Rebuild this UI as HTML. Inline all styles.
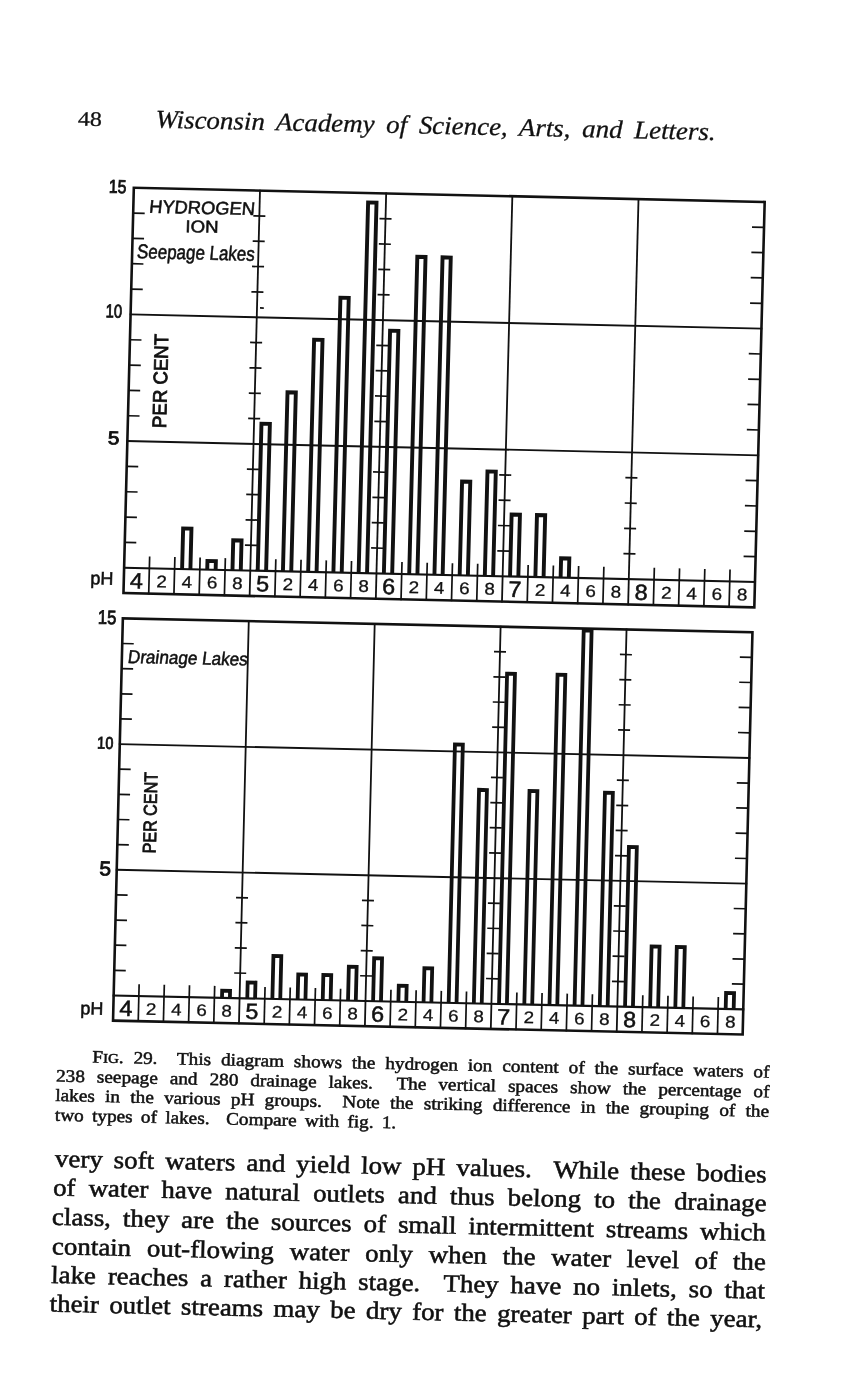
<!DOCTYPE html>
<html><head><meta charset="utf-8"><title>Fig. 29</title>
<style>html,body{margin:0;padding:0;background:#fff;width:841px;height:1380px;overflow:hidden}svg{display:block;will-change:transform}</style>
</head><body>
<svg width="841" height="1380" viewBox="0 0 841 1380">
<rect width="841" height="1380" fill="#fff"/>
<g transform="matrix(1.00135 0.02262 -0.02567 1.00533 133.825 187.725)" stroke="#111" fill="none" stroke-linecap="square">
<rect x="0" y="0" width="630.0" height="403.2" stroke-width="2.6"/>
<line x1="0" y1="126.0" x2="630.0" y2="126.0" stroke-width="1.9"/>
<line x1="0" y1="252.0" x2="630.0" y2="252.0" stroke-width="1.9"/>
<line x1="0" y1="378.0" x2="630.0" y2="378.0" stroke-width="2.1"/>
<line x1="126.0" y1="0" x2="126.0" y2="403.2" stroke-width="1.8"/>
<line x1="252.0" y1="0" x2="252.0" y2="403.2" stroke-width="1.8"/>
<line x1="378.0" y1="0" x2="378.0" y2="403.2" stroke-width="1.8"/>
<line x1="504.0" y1="0" x2="504.0" y2="403.2" stroke-width="1.8"/>
<line x1="25.2" y1="367.0" x2="25.2" y2="403.2" stroke-width="1.7"/>
<line x1="50.4" y1="367.0" x2="50.4" y2="403.2" stroke-width="1.7"/>
<line x1="75.6" y1="367.0" x2="75.6" y2="403.2" stroke-width="1.7"/>
<line x1="100.8" y1="367.0" x2="100.8" y2="403.2" stroke-width="1.7"/>
<line x1="151.2" y1="367.0" x2="151.2" y2="403.2" stroke-width="1.7"/>
<line x1="176.4" y1="367.0" x2="176.4" y2="403.2" stroke-width="1.7"/>
<line x1="201.6" y1="367.0" x2="201.6" y2="403.2" stroke-width="1.7"/>
<line x1="226.8" y1="367.0" x2="226.8" y2="403.2" stroke-width="1.7"/>
<line x1="277.2" y1="367.0" x2="277.2" y2="403.2" stroke-width="1.7"/>
<line x1="302.4" y1="367.0" x2="302.4" y2="403.2" stroke-width="1.7"/>
<line x1="327.6" y1="367.0" x2="327.6" y2="403.2" stroke-width="1.7"/>
<line x1="352.8" y1="367.0" x2="352.8" y2="403.2" stroke-width="1.7"/>
<line x1="403.2" y1="367.0" x2="403.2" y2="403.2" stroke-width="1.7"/>
<line x1="428.4" y1="367.0" x2="428.4" y2="403.2" stroke-width="1.7"/>
<line x1="453.6" y1="367.0" x2="453.6" y2="403.2" stroke-width="1.7"/>
<line x1="478.8" y1="367.0" x2="478.8" y2="403.2" stroke-width="1.7"/>
<line x1="529.2" y1="367.0" x2="529.2" y2="403.2" stroke-width="1.7"/>
<line x1="554.4" y1="367.0" x2="554.4" y2="403.2" stroke-width="1.7"/>
<line x1="579.6" y1="367.0" x2="579.6" y2="403.2" stroke-width="1.7"/>
<line x1="604.8" y1="367.0" x2="604.8" y2="403.2" stroke-width="1.7"/>
<path d="M0 352.8h11.5M630.0 352.8h-12M0 327.6h11.5M630.0 327.6h-12M0 302.4h11.5M630.0 302.4h-12M0 277.2h11.5M630.0 277.2h-12M0 226.8h11.5M630.0 226.8h-12M0 201.6h11.5M630.0 201.6h-12M0 176.4h11.5M630.0 176.4h-12M0 151.2h11.5M630.0 151.2h-12M0 100.8h11.5M630.0 100.8h-12M0 75.6h11.5M630.0 75.6h-12M0 50.4h11.5M630.0 50.4h-12M0 25.2h11.5M630.0 25.2h-12M120.0 25.2h12M120.0 50.4h12M120.0 75.6h12M120.0 100.8h12M120.0 151.2h12M120.0 176.4h12M120.0 201.6h12M120.0 226.8h12M120.0 277.2h12M120.0 302.4h12M120.0 327.6h12M120.0 352.8h12M246.0 25.2h12M246.0 50.4h12M246.0 75.6h12M246.0 100.8h12M246.0 151.2h12M246.0 176.4h12M246.0 201.6h12M246.0 226.8h12M246.0 277.2h12M246.0 302.4h12M246.0 327.6h12M246.0 352.8h12M372.0 277.2h12M372.0 302.4h12M372.0 327.6h12M372.0 352.8h12M498.0 277.2h12M498.0 302.4h12M498.0 327.6h12M498.0 352.8h12" stroke-width="1.7" stroke-linecap="butt"/>
<path d="M57.9 378.0V337.6H66.2V378.0M83.0 378.0V369.4H91.4V378.0M108.2 378.0V348.2H116.5V378.0M133.4 378.0V231.7H141.8V378.0M158.6 378.0V199.9H166.9V378.0M183.8 378.0V147.0H192.2V378.0M209.0 378.0V104.7H217.3V378.0M234.2 378.0V9.4H242.6V378.0M259.4 378.0V136.4H267.7V378.0M284.7 378.0V62.3H292.9V378.0M309.9 378.0V62.3H318.1V378.0M335.1 378.0V284.7H343.3V378.0M360.2 378.0V274.1H368.5V378.0M385.4 378.0V316.4H393.7V378.0M410.7 378.0V316.4H418.9V378.0M435.9 378.0V358.8H444.1V378.0" stroke-width="3.9" stroke-linecap="butt" stroke-linejoin="miter"/>
</g>
<g transform="matrix(1.00135 0.02262 -0.02567 1.00533 133.825 187.725)" fill="#111" font-family='"Liberation Sans", sans-serif'>
<g stroke="#111" stroke-width="0.55">
<text transform="translate(-7.5 5.5) scale(0.85 1)" font-size="18.5" text-anchor="end" stroke-width="0.85">15</text>
<text transform="translate(-8.5 129.5) scale(0.8 1)" font-size="18.5" text-anchor="end" stroke-width="0.85">10</text>
<text transform="translate(-8.0 255.5) scale(1.12 1)" font-size="18.5" text-anchor="end" stroke-width="0.85">5</text>
<text x="-10.5" y="395.2" font-size="18" text-anchor="end">pH</text>
<text transform="translate(15.5 24.5) skewX(-4)" font-size="18" textLength="105.5" lengthAdjust="spacingAndGlyphs">HYDROGEN</text>
<text x="52.5" y="43" font-size="17" textLength="33" lengthAdjust="spacingAndGlyphs">ION</text>
<text transform="translate(4.5 70) skewX(-4)" font-size="20" textLength="117.5" lengthAdjust="spacingAndGlyphs">Seepage Lakes</text>
<path d="M129 116.7h3.8" stroke-width="1.8"/>
<text transform="translate(38.2 238.3) rotate(-90)" font-size="19.5" textLength="93.5" lengthAdjust="spacingAndGlyphs" stroke-width="0.85">PER CENT</text>
</g>
<text transform="translate(12.6 398.3) scale(1.06 1)" font-size="22" text-anchor="middle" stroke="#111" stroke-width="0.55">4</text>
<text transform="translate(37.8 396.6) scale(1.12 1)" font-size="16.8" text-anchor="middle" stroke="#111" stroke-width="0.3">2</text>
<text transform="translate(63.0 396.6) scale(1.12 1)" font-size="16.8" text-anchor="middle" stroke="#111" stroke-width="0.3">4</text>
<text transform="translate(88.2 396.6) scale(1.12 1)" font-size="16.8" text-anchor="middle" stroke="#111" stroke-width="0.3">6</text>
<text transform="translate(113.4 396.6) scale(1.12 1)" font-size="16.8" text-anchor="middle" stroke="#111" stroke-width="0.3">8</text>
<text transform="translate(138.6 398.3) scale(1.06 1)" font-size="22" text-anchor="middle" stroke="#111" stroke-width="0.55">5</text>
<text transform="translate(163.8 396.6) scale(1.12 1)" font-size="16.8" text-anchor="middle" stroke="#111" stroke-width="0.3">2</text>
<text transform="translate(189.0 396.6) scale(1.12 1)" font-size="16.8" text-anchor="middle" stroke="#111" stroke-width="0.3">4</text>
<text transform="translate(214.2 396.6) scale(1.12 1)" font-size="16.8" text-anchor="middle" stroke="#111" stroke-width="0.3">6</text>
<text transform="translate(239.4 396.6) scale(1.12 1)" font-size="16.8" text-anchor="middle" stroke="#111" stroke-width="0.3">8</text>
<text transform="translate(264.6 398.3) scale(1.06 1)" font-size="22" text-anchor="middle" stroke="#111" stroke-width="0.55">6</text>
<text transform="translate(289.8 396.6) scale(1.12 1)" font-size="16.8" text-anchor="middle" stroke="#111" stroke-width="0.3">2</text>
<text transform="translate(315.0 396.6) scale(1.12 1)" font-size="16.8" text-anchor="middle" stroke="#111" stroke-width="0.3">4</text>
<text transform="translate(340.2 396.6) scale(1.12 1)" font-size="16.8" text-anchor="middle" stroke="#111" stroke-width="0.3">6</text>
<text transform="translate(365.4 396.6) scale(1.12 1)" font-size="16.8" text-anchor="middle" stroke="#111" stroke-width="0.3">8</text>
<text transform="translate(390.6 398.3) scale(1.06 1)" font-size="22" text-anchor="middle" stroke="#111" stroke-width="0.55">7</text>
<text transform="translate(415.8 396.6) scale(1.12 1)" font-size="16.8" text-anchor="middle" stroke="#111" stroke-width="0.3">2</text>
<text transform="translate(441.0 396.6) scale(1.12 1)" font-size="16.8" text-anchor="middle" stroke="#111" stroke-width="0.3">4</text>
<text transform="translate(466.2 396.6) scale(1.12 1)" font-size="16.8" text-anchor="middle" stroke="#111" stroke-width="0.3">6</text>
<text transform="translate(491.4 396.6) scale(1.12 1)" font-size="16.8" text-anchor="middle" stroke="#111" stroke-width="0.3">8</text>
<text transform="translate(516.6 398.3) scale(1.06 1)" font-size="22" text-anchor="middle" stroke="#111" stroke-width="0.55">8</text>
<text transform="translate(541.8 396.6) scale(1.12 1)" font-size="16.8" text-anchor="middle" stroke="#111" stroke-width="0.3">2</text>
<text transform="translate(567.0 396.6) scale(1.12 1)" font-size="16.8" text-anchor="middle" stroke="#111" stroke-width="0.3">4</text>
<text transform="translate(592.2 396.6) scale(1.12 1)" font-size="16.8" text-anchor="middle" stroke="#111" stroke-width="0.3">6</text>
<text transform="translate(617.4 396.6) scale(1.12 1)" font-size="16.8" text-anchor="middle" stroke="#111" stroke-width="0.3">8</text>
</g>
<g transform="matrix(0.99937 0.02198 -0.02431 0.99764 122.850 618.375)" stroke="#111" fill="none" stroke-linecap="square">
<rect x="0" y="0" width="630.0" height="403.2" stroke-width="2.6"/>
<line x1="0" y1="126.0" x2="630.0" y2="126.0" stroke-width="1.9"/>
<line x1="0" y1="252.0" x2="630.0" y2="252.0" stroke-width="1.9"/>
<line x1="0" y1="378.0" x2="630.0" y2="378.0" stroke-width="2.1"/>
<line x1="126.0" y1="0" x2="126.0" y2="403.2" stroke-width="1.8"/>
<line x1="252.0" y1="0" x2="252.0" y2="403.2" stroke-width="1.8"/>
<line x1="378.0" y1="0" x2="378.0" y2="403.2" stroke-width="1.8"/>
<line x1="504.0" y1="0" x2="504.0" y2="403.2" stroke-width="1.8"/>
<line x1="25.2" y1="367.0" x2="25.2" y2="403.2" stroke-width="1.7"/>
<line x1="50.4" y1="367.0" x2="50.4" y2="403.2" stroke-width="1.7"/>
<line x1="75.6" y1="367.0" x2="75.6" y2="403.2" stroke-width="1.7"/>
<line x1="100.8" y1="367.0" x2="100.8" y2="403.2" stroke-width="1.7"/>
<line x1="151.2" y1="367.0" x2="151.2" y2="403.2" stroke-width="1.7"/>
<line x1="176.4" y1="367.0" x2="176.4" y2="403.2" stroke-width="1.7"/>
<line x1="201.6" y1="367.0" x2="201.6" y2="403.2" stroke-width="1.7"/>
<line x1="226.8" y1="367.0" x2="226.8" y2="403.2" stroke-width="1.7"/>
<line x1="277.2" y1="367.0" x2="277.2" y2="403.2" stroke-width="1.7"/>
<line x1="302.4" y1="367.0" x2="302.4" y2="403.2" stroke-width="1.7"/>
<line x1="327.6" y1="367.0" x2="327.6" y2="403.2" stroke-width="1.7"/>
<line x1="352.8" y1="367.0" x2="352.8" y2="403.2" stroke-width="1.7"/>
<line x1="403.2" y1="367.0" x2="403.2" y2="403.2" stroke-width="1.7"/>
<line x1="428.4" y1="367.0" x2="428.4" y2="403.2" stroke-width="1.7"/>
<line x1="453.6" y1="367.0" x2="453.6" y2="403.2" stroke-width="1.7"/>
<line x1="478.8" y1="367.0" x2="478.8" y2="403.2" stroke-width="1.7"/>
<line x1="529.2" y1="367.0" x2="529.2" y2="403.2" stroke-width="1.7"/>
<line x1="554.4" y1="367.0" x2="554.4" y2="403.2" stroke-width="1.7"/>
<line x1="579.6" y1="367.0" x2="579.6" y2="403.2" stroke-width="1.7"/>
<line x1="604.8" y1="367.0" x2="604.8" y2="403.2" stroke-width="1.7"/>
<path d="M0 352.8h11.5M630.0 352.8h-12M0 327.6h11.5M630.0 327.6h-12M0 302.4h11.5M630.0 302.4h-12M0 277.2h11.5M630.0 277.2h-12M0 226.8h11.5M630.0 226.8h-12M0 201.6h11.5M630.0 201.6h-12M0 176.4h11.5M630.0 176.4h-12M0 151.2h11.5M630.0 151.2h-12M0 100.8h11.5M630.0 100.8h-12M0 75.6h11.5M630.0 75.6h-12M0 50.4h11.5M630.0 50.4h-12M0 25.2h11.5M630.0 25.2h-12M120.0 277.2h12M120.0 302.4h12M120.0 327.6h12M120.0 352.8h12M246.0 277.2h12M246.0 302.4h12M246.0 327.6h12M246.0 352.8h12M372.0 25.2h12M372.0 50.4h12M372.0 75.6h12M372.0 100.8h12M372.0 151.2h12M372.0 176.4h12M372.0 201.6h12M372.0 226.8h12M372.0 277.2h12M372.0 302.4h12M372.0 327.6h12M372.0 352.8h12M498.0 25.2h12M498.0 50.4h12M498.0 75.6h12M498.0 100.8h12M498.0 151.2h12M498.0 176.4h12M498.0 201.6h12M498.0 226.8h12M498.0 277.2h12M498.0 302.4h12M498.0 327.6h12M498.0 352.8h12" stroke-width="1.7" stroke-linecap="butt"/>
<path d="M108.4 378.0V370.9H116.3V378.0M133.7 378.0V361.9H141.5V378.0M158.8 378.0V334.9H166.7V378.0M184.1 378.0V352.9H191.9V378.0M209.2 378.0V352.9H217.1V378.0M234.5 378.0V343.9H242.3V378.0M259.6 378.0V334.9H267.5V378.0M284.9 378.0V361.9H292.8V378.0M310.1 378.0V343.9H317.9V378.0M335.2 378.0V118.9H343.1V378.0M360.4 378.0V163.9H368.3V378.0M385.6 378.0V46.9H393.5V378.0M410.9 378.0V163.9H418.8V378.0M436.1 378.0V46.9H443.9V378.0M461.2 378.0V1.9H469.1V378.0M486.4 378.0V163.9H494.3V378.0M511.7 378.0V217.9H519.6V378.0M536.8 378.0V316.9H544.8V378.0M562.0 378.0V316.9H570.0V378.0M612.4 378.0V361.9H620.4V378.0" stroke-width="3.8" stroke-linecap="butt" stroke-linejoin="miter"/>
</g>
<g transform="matrix(0.99937 0.02198 -0.02431 0.99764 122.850 618.375)" fill="#111" font-family='"Liberation Sans", sans-serif'>
<g stroke="#111" stroke-width="0.55">
<text transform="translate(-6.5 6) scale(0.85 1)" font-size="19.5" text-anchor="end" stroke-width="0.85">15</text>
<text transform="translate(-6.5 131) scale(0.85 1)" font-size="17" text-anchor="end" stroke-width="0.85">10</text>
<text transform="translate(-5.6 257.8) scale(1.05 1)" font-size="20" text-anchor="end" stroke-width="0.85">5</text>
<text x="-10" y="397.5" font-size="18" text-anchor="end">pH</text>
<text transform="translate(5.5 44.5) skewX(-6)" font-size="18.5" textLength="120" lengthAdjust="spacingAndGlyphs">Drainage Lakes</text>
<text transform="translate(38.5 234.8) rotate(-90)" font-size="18.5" textLength="81.5" lengthAdjust="spacingAndGlyphs" stroke-width="0.8">PER CENT</text>
</g>
<text transform="translate(12.6 398.3) scale(1.06 1)" font-size="22" text-anchor="middle" stroke="#111" stroke-width="0.55">4</text>
<text transform="translate(37.8 396.6) scale(1.12 1)" font-size="16.8" text-anchor="middle" stroke="#111" stroke-width="0.3">2</text>
<text transform="translate(63.0 396.6) scale(1.12 1)" font-size="16.8" text-anchor="middle" stroke="#111" stroke-width="0.3">4</text>
<text transform="translate(88.2 396.6) scale(1.12 1)" font-size="16.8" text-anchor="middle" stroke="#111" stroke-width="0.3">6</text>
<text transform="translate(113.4 396.6) scale(1.12 1)" font-size="16.8" text-anchor="middle" stroke="#111" stroke-width="0.3">8</text>
<text transform="translate(138.6 398.3) scale(1.06 1)" font-size="22" text-anchor="middle" stroke="#111" stroke-width="0.55">5</text>
<text transform="translate(163.8 396.6) scale(1.12 1)" font-size="16.8" text-anchor="middle" stroke="#111" stroke-width="0.3">2</text>
<text transform="translate(189.0 396.6) scale(1.12 1)" font-size="16.8" text-anchor="middle" stroke="#111" stroke-width="0.3">4</text>
<text transform="translate(214.2 396.6) scale(1.12 1)" font-size="16.8" text-anchor="middle" stroke="#111" stroke-width="0.3">6</text>
<text transform="translate(239.4 396.6) scale(1.12 1)" font-size="16.8" text-anchor="middle" stroke="#111" stroke-width="0.3">8</text>
<text transform="translate(264.6 398.3) scale(1.06 1)" font-size="22" text-anchor="middle" stroke="#111" stroke-width="0.55">6</text>
<text transform="translate(289.8 396.6) scale(1.12 1)" font-size="16.8" text-anchor="middle" stroke="#111" stroke-width="0.3">2</text>
<text transform="translate(315.0 396.6) scale(1.12 1)" font-size="16.8" text-anchor="middle" stroke="#111" stroke-width="0.3">4</text>
<text transform="translate(340.2 396.6) scale(1.12 1)" font-size="16.8" text-anchor="middle" stroke="#111" stroke-width="0.3">6</text>
<text transform="translate(365.4 396.6) scale(1.12 1)" font-size="16.8" text-anchor="middle" stroke="#111" stroke-width="0.3">8</text>
<text transform="translate(390.6 398.3) scale(1.06 1)" font-size="22" text-anchor="middle" stroke="#111" stroke-width="0.55">7</text>
<text transform="translate(415.8 396.6) scale(1.12 1)" font-size="16.8" text-anchor="middle" stroke="#111" stroke-width="0.3">2</text>
<text transform="translate(441.0 396.6) scale(1.12 1)" font-size="16.8" text-anchor="middle" stroke="#111" stroke-width="0.3">4</text>
<text transform="translate(466.2 396.6) scale(1.12 1)" font-size="16.8" text-anchor="middle" stroke="#111" stroke-width="0.3">6</text>
<text transform="translate(491.4 396.6) scale(1.12 1)" font-size="16.8" text-anchor="middle" stroke="#111" stroke-width="0.3">8</text>
<text transform="translate(516.6 398.3) scale(1.06 1)" font-size="22" text-anchor="middle" stroke="#111" stroke-width="0.55">8</text>
<text transform="translate(541.8 396.6) scale(1.12 1)" font-size="16.8" text-anchor="middle" stroke="#111" stroke-width="0.3">2</text>
<text transform="translate(567.0 396.6) scale(1.12 1)" font-size="16.8" text-anchor="middle" stroke="#111" stroke-width="0.3">4</text>
<text transform="translate(592.2 396.6) scale(1.12 1)" font-size="16.8" text-anchor="middle" stroke="#111" stroke-width="0.3">6</text>
<text transform="translate(617.4 396.6) scale(1.12 1)" font-size="16.8" text-anchor="middle" stroke="#111" stroke-width="0.3">8</text>
</g>
<g fill="#111" stroke="#111" font-family='"Liberation Serif", serif' style="white-space:pre">
<text xml:space="preserve" id="pg" transform="translate(77.80 125.60) rotate(1.272) scale(1.17 1)" font-size="20.5" stroke-width="0.3">48</text>
<text xml:space="preserve" id="hd" transform="translate(155.50 127.60) rotate(1.272) scale(1.056 1)" font-size="25.5" word-spacing="4.65" font-style="italic" stroke-width="0.3">Wisconsin Academy of Science, Arts, and Letters.</text>
<text xml:space="preserve" id="c0" transform="translate(92.30 1062.50) rotate(1.272) scale(1.1 1)" font-size="17.5" word-spacing="4.63" stroke-width="0.5"><tspan font-size="17.5">F</tspan><tspan font-size="13.5">IG</tspan>. 29.  This diagram shows the hydrogen ion content of the surface waters of</text>
<text xml:space="preserve" id="c1" transform="translate(56.00 1081.60) rotate(1.272) scale(1.1 1)" font-size="17.5" word-spacing="6.54" stroke-width="0.5">238 seepage and 280 drainage lakes.  The vertical spaces show the percentage of</text>
<text xml:space="preserve" id="c2" transform="translate(55.20 1101.00) rotate(1.272) scale(1.1 1)" font-size="17.5" word-spacing="4.97" stroke-width="0.5">lakes in the various pH groups.  Note the striking difference in the grouping of the</text>
<text xml:space="preserve" id="c3" transform="translate(54.80 1120.70) rotate(1.272) scale(1.1 1)" font-size="17.5" word-spacing="3.18" stroke-width="0.5">two types of lakes.  Compare with fig. 1.</text>
<text xml:space="preserve" id="b0" transform="translate(54.80 1166.60) rotate(1.272) scale(1.09 1)" font-size="24.7" word-spacing="3.93" stroke-width="0.55">very soft waters and yield low pH values.  While these bodies</text>
<text xml:space="preserve" id="b1" transform="translate(52.90 1195.40) rotate(1.272) scale(1.09 1)" font-size="24.7" word-spacing="5.83" stroke-width="0.55">of water have natural outlets and thus belong to the drainage</text>
<text xml:space="preserve" id="b2" transform="translate(51.80 1224.80) rotate(1.272) scale(1.09 1)" font-size="24.7" word-spacing="4.82" stroke-width="0.55">class, they are the sources of small intermittent streams which</text>
<text xml:space="preserve" id="b3" transform="translate(51.80 1254.20) rotate(1.272) scale(1.09 1)" font-size="24.7" word-spacing="8.25" stroke-width="0.55">contain out-flowing water only when the water level of the</text>
<text xml:space="preserve" id="b4" transform="translate(51.00 1282.90) rotate(1.272) scale(1.09 1)" font-size="24.7" word-spacing="4.67" stroke-width="0.55">lake reaches a rather high stage.  They have no inlets, so that</text>
<text xml:space="preserve" id="b5" transform="translate(49.50 1311.60) rotate(1.272) scale(1.09 1)" font-size="24.7" word-spacing="3.32" stroke-width="0.55">their outlet streams may be dry for the greater part of the year,</text>
</g>
</svg>
</body></html>
